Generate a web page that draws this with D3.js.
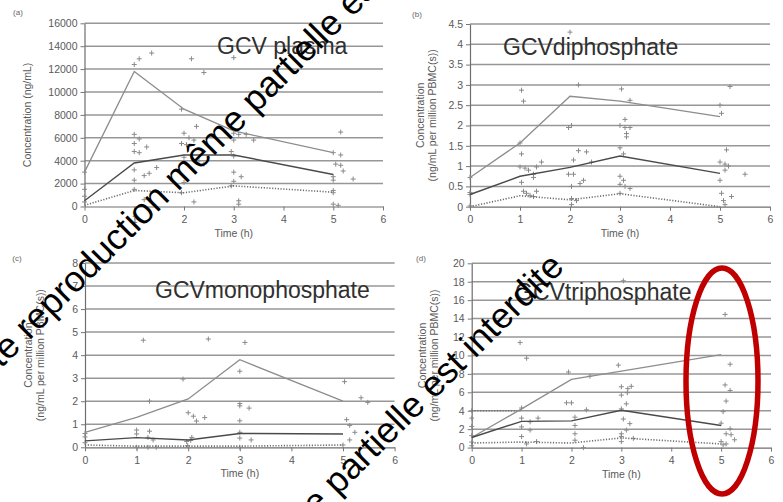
<!DOCTYPE html>
<html>
<head>
<meta charset="utf-8">
<script src="https://cdn.jsdelivr.net/npm/d3@7"></script>
<style>
  body { margin: 0; background: #fff; }
  svg { display: block; }
</style>
</head>
<body>
<svg width="783" height="502"></svg>
<script>
const sampleTimes = [0, 1, 2, 3, 5]
const timeTicks = [0, 1, 2, 3, 4, 5, 6]

// (a) GCV plasma, ng/mL
const plasmaTicks = [0, 2000, 4000, 6000, 8000, 10000, 12000, 14000, 16000]
const plasmaHigh = [3000, 11800, 8500, 6600, 4700]
const plasmaMedian = [500, 3800, 4500, 4500, 2800]
const plasmaLow = [100, 1400, 1200, 1800, 1250]
const plasmaPoints = [
  [0, 3000], [0, 1500], [0, 900], [0, 400],
  [1.0, 12400], [1.1, 12900], [1.35, 13400], [1.0, 6300], [1.1, 5900], [1.0, 5500], [1.25, 5200], [1.0, 4800],
  [1.1, 4700], [1.0, 3200], [1.0, 2300], [1.2, 2700], [1.3, 2900], [1.45, 3400], [1.0, 1500], [1.2, 600],
  [2.15, 12900], [2.4, 11700], [1.95, 8500], [2.25, 7000], [2.0, 6400], [2.1, 6000], [2.05, 5400], [2.2, 5800],
  [1.95, 5500], [2.0, 4300], [2.3, 4000], [2.4, 3700], [2.0, 2100], [2.2, 400], [1.95, 1200],
  [3.0, 13000], [3.0, 6400], [3.1, 6300], [3.25, 6300], [3.4, 5800], [3.0, 5800], [2.95, 4800], [3.0, 4400],
  [3.0, 3000], [3.15, 2600], [3.0, 2200], [2.95, 1800], [3.1, 500], [3.1, 200],
  [5.15, 6500], [5.0, 4700], [5.15, 4500], [5.05, 3700], [5.15, 3600], [5.2, 3100], [5.0, 2600], [5.0, 2300],
  [5.4, 2400], [5.0, 1400], [5.0, 1200], [5.0, 200], [5.1, 100]
]

// (b) GCV diphosphate
const diTicks = [0, 0.5, 1, 1.5, 2, 2.5, 3, 3.5, 4, 4.5]
const diHigh = [0.72, 1.57, 2.72, 2.6, 2.22]
const diMedian = [0.3, 0.75, 0.97, 1.25, 0.82]
const diLow = [0, 0.27, 0.17, 0.32, 0]
const diPoints = [
  [0, 0.72], [0, 0.3], [0, 0.35], [0, 0.02],
  [1.03, 2.87], [1.07, 2.6], [1.03, 1.3], [1.0, 0.98], [1.1, 0.95], [1.17, 0.9], [1.27, 0.8], [1.27, 0.72],
  [1.33, 0.98], [1.43, 1.1], [1.03, 0.6], [1.07, 0.38], [1.13, 0.33], [1.2, 0.28], [1.33, 0.38], [1.27, 0.25], [1.0, 1.57],
  [2.0, 4.3], [1.97, 1.95], [2.03, 2.0], [2.17, 3.0], [2.17, 1.38], [2.33, 1.35], [2.07, 1.15], [2.43, 1.1],
  [1.97, 0.8], [2.07, 0.8], [2.27, 0.65], [2.2, 0.57], [2.03, 0.5], [2.03, 0.2], [2.13, 0.15], [2.03, 0.05],
  [3.03, 2.9], [3.2, 2.62], [3.1, 2.15], [3.0, 2.0], [3.1, 1.95], [3.2, 1.95], [3.13, 1.8], [3.13, 1.72],
  [3.0, 1.45], [3.07, 1.3], [3.0, 0.75], [3.07, 0.65], [3.0, 0.55], [3.1, 0.5], [3.2, 0.45], [3.0, 0.33],
  [5.2, 2.96], [5.0, 2.5], [5.03, 2.3], [5.13, 1.4], [5.0, 1.1], [5.1, 1.05], [5.17, 1.0], [5.1, 0.9],
  [5.5, 0.8], [5.0, 0.65], [5.03, 0.33], [5.23, 0.25], [5.07, 0.15], [5.1, 0.05]
]

// (c) GCV monophosphate
const monoTicks = [0, 1, 2, 3, 4, 5, 6, 7, 8]
const monoHigh = [0.65, 1.3, 2.1, 3.8, 2.0]
const monoMedian = [0.28, 0.42, 0.32, 0.6, 0.58]
const monoLow = [0.1, 0.05, 0.05, 0.05, 0.1]
const monoPoints = [
  [0, 0.6], [0, 0.45], [0, 0.2],
  [1.13, 4.65], [1.0, 0.75], [1.0, 0.58], [1.25, 0.7], [1.32, 0.32], [1.22, 0.43], [1.0, 0.0], [1.22, 0.0],
  [1.38, 0.0], [1.25, 2.0],
  [2.39, 4.7], [1.9, 2.96], [2.0, 1.5], [2.1, 1.35], [2.16, 1.14], [2.32, 1.29], [1.97, 0.25], [2.07, 0.43],
  [1.99, 0.07], [2.05, 0.3],
  [3.1, 4.55], [3.0, 3.3], [3.0, 1.9], [3.0, 1.8], [3.18, 1.7], [3.0, 1.15], [3.0, 0.65], [3.0, 0.4],
  [3.22, 0.32], [3.0, 0.0],
  [5.03, 2.85], [5.35, 2.15], [5.48, 1.95], [5.07, 1.2], [5.13, 0.95], [5.23, 0.65], [5.13, 0.32], [5.0, 0.1]
]

// (d) GCV triphosphate
const triTicks = [0, 2, 4, 6, 8, 10, 12, 14, 16, 18, 20]
const triHigh = [1.1, 4.2, 7.4, 8.3, 10.1]
const triMedian = [1.1, 2.85, 2.9, 4.05, 2.4]
const triLow = [0.5, 0.6, 0.5, 1.05, 0.4]
const triEarlyTimes = [0, 1]
const triEarlyLevel = [4, 4]
const triPoints = [
  [0, 4.0], [0, 3.2], [0, 2.3], [0, 1.3], [0, 0.6], [0, 0.2],
  [0.97, 11.4], [1.1, 9.7], [1.0, 4.3], [1.0, 3.2], [1.17, 2.8], [1.33, 3.2], [1.0, 2.25], [1.17, 1.9],
  [1.0, 1.2], [1.1, 0.4], [1.3, 0.65],
  [1.94, 8.2], [2.37, 7.75], [1.9, 4.86], [2.0, 4.86], [2.3, 4.1], [2.07, 3.3], [2.07, 2.4], [2.07, 1.5],
  [2.07, 0.8], [2.24, 0.0],
  [3.04, 18.1], [2.94, 8.95], [3.0, 6.6], [3.13, 6.4], [3.2, 6.65], [3.0, 5.7], [3.12, 5.95], [3.1, 4.75],
  [3.0, 4.2], [3.04, 3.1], [3.17, 2.6], [3.1, 1.9], [3.0, 1.5], [3.0, 1.2], [3.0, 0.65], [3.24, 1.0],
  [5.08, 14.45], [5.18, 9.05], [5.08, 6.8], [5.18, 6.2], [5.1, 5.05], [5.04, 3.9], [5.0, 2.65], [5.18, 2.05],
  [5.1, 1.5], [5.2, 1.4], [5.27, 0.85], [5.0, 0.65], [5.04, 0.3], [5.1, 0.4]
]

const watermark = "Toute reproduction même partielle est interdite"
const unitLine = "(ng/mL per million PBMC(s))"

const svg = d3.select("svg")
const textFont = "'Liberation Sans', Arial, sans-serif"

const pair = (times, values) => times.map((t, i) => [t, values[i]])

const panels = [
  { tag: "(a)", title: "GCV plasma", ticks: plasmaTicks, high: plasmaHigh, median: plasmaMedian, low: plasmaLow,
    points: plasmaPoints, yTitle: ["Concentration (ng/mL)"],
    left: 84.5, right: 383, top: 23.3, bottom: 206.5, titleX: 217, titleY: 54, tagX: 18, tagY: 15, yTitleX: [27] },
  { tag: "(b)", title: "GCVdiphosphate", ticks: diTicks, high: diHigh, median: diMedian, low: diLow,
    points: diPoints, yTitle: ["Concentration", unitLine],
    left: 470, right: 770, top: 24, bottom: 206.7, titleX: 503, titleY: 55, tagX: 417, tagY: 17, yTitleX: [420, 432] },
  { tag: "(c)", title: "GCVmonophosphate", ticks: monoTicks, high: monoHigh, median: monoMedian, low: monoLow,
    points: monoPoints, yTitle: ["Concentration", unitLine],
    left: 85, right: 394.6, top: 263, bottom: 447.3, titleX: 155, titleY: 298, tagX: 17, tagY: 261, yTitleX: [28, 40] },
  { tag: "(d)", title: "GCVtriphosphate", ticks: triTicks, high: triHigh, median: triMedian, low: triLow,
    points: triPoints, yTitle: ["Concentration", unitLine], extra: pair(triEarlyTimes, triEarlyLevel),
    left: 471.7, right: 771, top: 263.3, bottom: 447.6, titleX: 515, titleY: 300, tagX: 421, tagY: 261, yTitleX: [422, 434] }
]

panels.forEach(p => {
  const x = d3.scaleLinear().domain([0, 6]).range([p.left, p.right])
  const y = d3.scaleLinear().domain([0, d3.max(p.ticks)]).range([p.bottom, p.top])
  const g = svg.append("g")

  // gridlines
  g.selectAll("line.grid")
    .data(p.ticks.filter(t => t > 0))
    .join("line")
    .attr("class", "grid")
    .attr("x1", x(0)).attr("x2", x(6))
    .attr("y1", d => y(d)).attr("y2", d => y(d))
    .attr("stroke", "#979797")
    .attr("stroke-width", 1.5)

  const yAxis = g.append("g")
    .attr("transform", `translate(${x(0)},0)`)
    .call(d3.axisLeft(y).tickValues(p.ticks).tickSize(4).tickSizeOuter(0).tickPadding(3).tickFormat(d => String(d)))
  const xAxis = g.append("g")
    .attr("transform", `translate(0,${y(0)})`)
    .call(d3.axisBottom(x).tickValues(timeTicks).tickSize(4).tickSizeOuter(0).tickPadding(5).tickFormat(d3.format("d")))

  ;[yAxis, xAxis].forEach(a => {
    a.select(".domain").attr("stroke", "#6e6e6e").attr("stroke-width", 1.2)
    a.selectAll(".tick line").attr("stroke", "#777")
    a.selectAll("text").attr("fill", "#5a5a5a").style("font", `10.5px ${textFont}`)
  })

  const line = d3.line().x(d => x(d[0])).y(d => y(d[1]))

  // individual values
  g.selectAll("path.pt")
    .data(p.points)
    .join("path")
    .attr("class", "pt")
    .attr("transform", d => `translate(${x(d[0])},${y(d[1])})`)
    .attr("d", "M-2.5,0H2.5M0,-2.5V2.5")
    .attr("stroke", "#8a8a8a")
    .attr("stroke-width", 1)

  g.append("path").datum(pair(sampleTimes, p.low))
    .attr("d", line).attr("fill", "none")
    .attr("stroke", "#6f6f6f").attr("stroke-width", 1.6).attr("stroke-dasharray", "1.2,1.6")
  if (p.extra) {
    g.append("path").datum(p.extra)
      .attr("d", line).attr("fill", "none")
      .attr("stroke", "#6f6f6f").attr("stroke-width", 1.6).attr("stroke-dasharray", "1.2,1.6")
  }
  g.append("path").datum(pair(sampleTimes, p.high))
    .attr("d", line).attr("fill", "none")
    .attr("stroke", "#8d8d8d").attr("stroke-width", 1.3)
  g.append("path").datum(pair(sampleTimes, p.median))
    .attr("d", line).attr("fill", "none")
    .attr("stroke", "#4a4a4a").attr("stroke-width", 1.4)

  // labels
  g.append("text")
    .attr("x", (x(0) + x(6)) / 2).attr("y", y(0) + 30)
    .attr("text-anchor", "middle")
    .attr("fill", "#5a5a5a")
    .style("font", `10.5px ${textFont}`)
    .text("Time (h)")

  p.yTitle.forEach((t, i) => {
    g.append("text")
      .attr("transform", `translate(${p.yTitleX[i]},${(p.top + p.bottom) / 2}) rotate(-90)`)
      .attr("text-anchor", "middle")
      .attr("dy", "0.35em")
      .attr("fill", "#5a5a5a")
      .style("font", `10.5px ${textFont}`)
      .text(t)
  })

  g.append("text")
    .attr("x", p.tagX).attr("y", p.tagY)
    .attr("text-anchor", "middle")
    .attr("fill", "#666")
    .style("font", `8px ${textFont}`)
    .text(p.tag)

  g.append("text")
    .attr("x", p.titleX).attr("y", p.titleY)
    .attr("fill", "#303030")
    .style("font", `23px ${textFont}`)
    .text(p.title)
})

// watermark, two diagonal copies
const marks = [[-40, 410], [42, 792]]
svg.selectAll("text.wm")
  .data(marks)
  .join("text")
  .attr("class", "wm")
  .attr("transform", d => `translate(${d[0]},${d[1]}) rotate(-45)`)
  .attr("fill", "#000")
  .style("font", `36px ${textFont}`)
  .text(watermark)

// highlight at 5 h in panel (d)
svg.append("ellipse")
  .attr("cx", 722).attr("cy", 381)
  .attr("rx", 36).attr("ry", 113)
  .attr("fill", "none")
  .attr("stroke", "#c00000")
  .attr("stroke-width", 5.5)
</script>
</body>
</html>
